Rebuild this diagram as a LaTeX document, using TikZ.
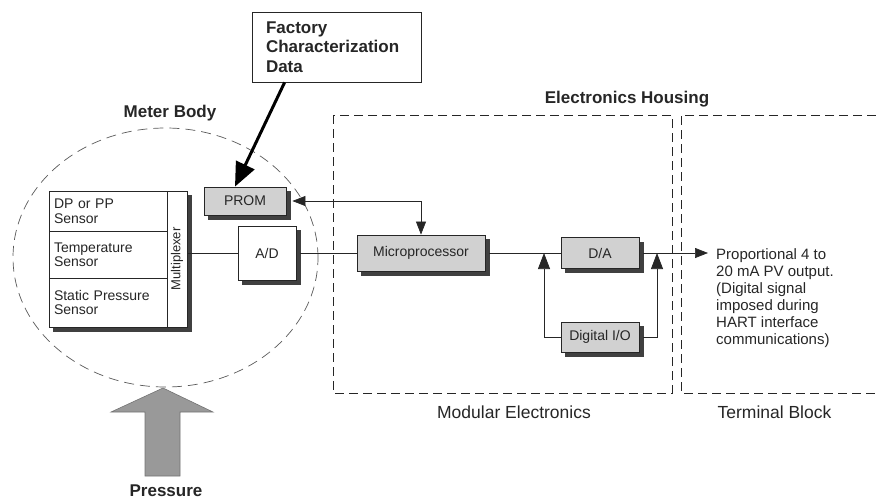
\documentclass[tikz,border=0pt]{standalone}
\usepackage{fontspec}
\setmainfont{Liberation Sans}
\usetikzlibrary{arrows.meta}
\definecolor{boxgray}{gray}{0.82}
\definecolor{shadowgray}{gray}{0.25}
\definecolor{arrowgray}{gray}{0.6}
\begin{document}
\begin{tikzpicture}[x=1pt,y=-1pt,
  every node/.style={font=\fontsize{14}{14.5}\selectfont, text=black!85},
  sbox/.style={draw=black!85, line width=0.8pt, inner sep=0pt},
  shad/.style={fill=shadowgray},
  cell/.style={draw=black!85, line width=0.8pt, inner sep=0pt, minimum width=118,
    text width=108, align=left},
  ttl/.style={font=\fontsize{17}{19.5}\selectfont\bfseries},
  lbl/.style={font=\fontsize{17.5}{20}\selectfont},
  conn/.style={draw=black!85, line width=0.7pt},
  tri/.tip={Triangle[length=13pt,width=10pt]},
  bigtri/.tip={Triangle[length=16pt,width=12pt]},
  dsh/.style={draw=black!85, line width=0.8pt, dash pattern=on 9pt off 5pt}]
\useasboundingbox (0,0) rectangle (876,501);

% Drop shadows (drawn first, under the boxes)
\fill[shad] (53,195) rectangle (191.5,331.5);
\fill[shad] (208,191) rectangle (290.5,219.5);
\fill[shad] (242,230) rectangle (300.5,284.5);
\fill[shad] (361,239) rectangle (489.5,275.5);
\fill[shad] (565,241.5) rectangle (643.5,273);
\fill[shad] (565,326) rectangle (643.5,356.5);

% Factory data
\node[sbox, fill=white, minimum width=169, minimum height=70, text width=141, align=left,
  font=\fontsize{17}{19.5}\selectfont\bfseries] (fact) at (336.5,47) {Factory\\Characterization\\Data};

% Meter body
\node[ttl] (mb) at (170,113) {Meter Body};
\draw[draw=black!65, line width=0.7pt, dash pattern=on 10pt off 6pt]
  (165.5,257.5) ellipse [x radius=152.5pt, y radius=129.5pt];

% Sensor block
\node[sbox, fill=white, minimum width=138, minimum height=136] (sens) at (118,259) {};
\node[cell, minimum height=40] (s1) at (108,211) {DP or PP\\Sensor};
\node[cell, minimum height=47] (s2) at (108,254.5) {Temperature\\Sensor};
\node[cell, minimum height=49] (s3) at (108,302.5) {Static Pressure\\Sensor};
\node[draw=black!85, line width=0.8pt, inner sep=0pt, rotate=90, minimum width=136,
  minimum height=20, font=\fontsize{13}{14}\selectfont] (mux) at (177,259) {Multiplexer};

% Blocks
\node[sbox, fill=boxgray, minimum width=82, minimum height=28] (prom) at (245,201) {PROM};
\node[sbox, fill=white, minimum width=58, minimum height=54] (ad) at (267,253) {A/D};
\node[sbox, fill=boxgray, minimum width=128, minimum height=36] (micro) at (421,253) {Microprocessor};
\node[sbox, fill=boxgray, minimum width=78, minimum height=31] (da) at (600,253) {D/A};
\node[sbox, fill=boxgray, minimum width=78, minimum height=30] (dio) at (600,337) {Digital I/O};

\coordinate (j1) at (544,253);
\coordinate (j2) at (657,253);
\coordinate (out) at (708,253);

% Connectors
\draw[line width=3pt, -{Triangle[length=24pt,width=20pt]}]
  ([xshift=33pt]fact.south west) -- ([xshift=-10pt]prom.north);
\draw[conn, tri-tri] ([xshift=6pt]prom.east) -| (micro.north);
\draw[conn] (sens.east |- ad.west) -- (ad.west);
\draw[conn] ([xshift=4pt]ad.east) -- (micro.west);
\draw[conn] ([xshift=4pt]micro.east) -- (da.west);
\draw[conn, -tri] ([xshift=4pt]da.east) -- (out);
\draw[conn, -bigtri] (dio.west) -| (j1);
\draw[conn, -bigtri] ([xshift=4pt]dio.east) -| (j2);

% Pressure arrow
\draw[fill=arrowgray, draw=black!55, line width=0.6pt]
  (163,388) -- (213,412) -- (180,412) -- (180,476) -- (145,476) -- (145,412) -- (111,412) -- cycle;
\node[ttl] (pr) at (166,491) {Pressure};

% Electronics housing
\node[ttl] (eh) at (627,99) {Electronics Housing};
\draw[dsh] (333,115) rectangle (672,393);
\draw[dsh] (876,115) -- (681,115) -- (681,393) -- (876,393);
\node[lbl] (me) at (514,412) {Modular Electronics};
\node[lbl] (tb) at (774.5,412) {Terminal Block};

\node[font=\fontsize{15}{17}\selectfont, align=left, anchor=west, inner sep=0pt] (otxt) at (716,298)
  {Proportional 4 to\\20 mA PV output.\\(Digital signal\\imposed during\\HART interface\\communications)};
\end{tikzpicture}
\end{document}
